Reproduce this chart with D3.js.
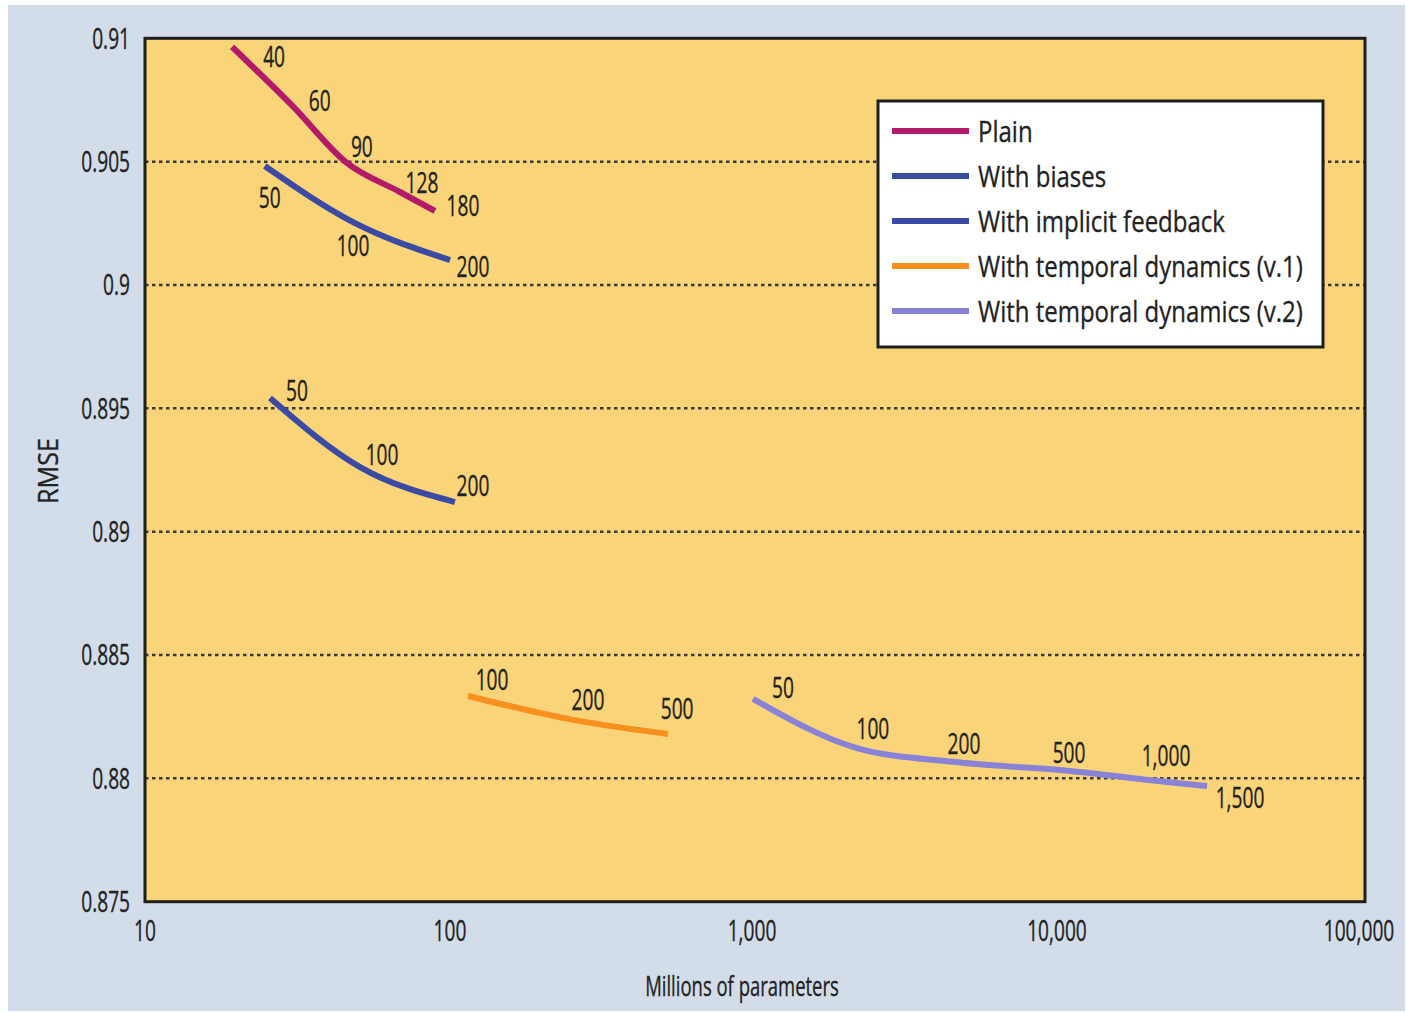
<!DOCTYPE html>
<html>
<head>
<meta charset="utf-8">
<script src="https://cdn.jsdelivr.net/npm/d3@7/dist/d3.min.js"></script>
<style>
  html, body { margin: 0; padding: 0; background: #ffffff; }
  svg { display: block; }
  text { font-family: "Open Sans", "Noto Sans", sans-serif; fill: #222222; stroke: #222222; stroke-width: 0.35px; }
</style>
</head>
<body>
<svg id="chart" width="1406" height="1013"></svg>
<script>
// ---------------- data ----------------
const seriesNames = ["Plain", "With biases", "With implicit feedback", "With temporal dynamics (v.1)", "With temporal dynamics (v.2)"];
const seriesColors = ["#b31a6a", "#3b4aa3", "#3b4aa3", "#f7901e", "#8883d6"];

// x: millions of parameters, y: RMSE, labels: number of factors
const plainParams = [19.3, 30.5, 45.9, 68, 89.3];
const plainRMSE   = [0.90965, 0.90725, 0.90495, 0.90379, 0.90300];
const plainLabels = ["40", "60", "90", "128", "180"];

const biasesParams = [24.7, 48.1, 100];
const biasesRMSE   = [0.90482, 0.90255, 0.90101];
const biasesLabels = ["50", "100", "200"];

const implicitParams = [25.7, 50.7, 103.8];
const implicitRMSE   = [0.89542, 0.89262, 0.89120];
const implicitLabels = ["50", "100", "200"];

const temporal1Params = [114.6, 253, 519];
const temporal1RMSE   = [0.88334, 0.88237, 0.88180];
const temporal1Labels = ["100", "200", "500"];

const temporal2Params = [985, 2158, 4457, 10790, 22430, 30340];
const temporal2RMSE   = [0.88322, 0.88123, 0.88067, 0.88030, 0.87985, 0.87969];
const temporal2Labels = ["50", "100", "200", "500", "1,000", "1,500"];

const yTicks = [0.875, 0.88, 0.885, 0.89, 0.895, 0.9, 0.905, 0.91];
const yTickLabels = ["0.875", "0.88", "0.885", "0.89", "0.895", "0.9", "0.905", "0.91"];
const xTicks = [10, 100, 1000, 10000, 100000];
const xTickLabels = ["10", "100", "1,000", "10,000", "100,000"];
const xTitle = "Millions of parameters";
const yTitle = "RMSE";

// label offsets (layout only, in pixels relative to point)
const labelOffsets = [
  [[42, 10], [27, -6], [15, -16], [23, -9], [28, -5]],
  [[5, 31], [0, 23], [23, 6]],
  [[27, -7], [22, -12], [18, -17]],
  [[24, -16], [15, -20], [9, -25]],
  [[30, -11], [16, -19], [11, -18], [-1, -18], [-1, -27], [33, 12]]
];

const series = [
  {params: plainParams, rmse: plainRMSE, labels: plainLabels},
  {params: biasesParams, rmse: biasesRMSE, labels: biasesLabels},
  {params: implicitParams, rmse: implicitRMSE, labels: implicitLabels},
  {params: temporal1Params, rmse: temporal1RMSE, labels: temporal1Labels},
  {params: temporal2Params, rmse: temporal2RMSE, labels: temporal2Labels}
];

// ---------------- layout ----------------
const svg = d3.select("#chart");
const plot = {left: 145, right: 1365, top: 38.3, bottom: 901.7};

const x = d3.scaleLog().domain([10, 100000]).range([plot.left, plot.right]);
const y = d3.scaleLinear().domain([0.875, 0.91]).range([plot.bottom, plot.top]);

// background panel
svg.append("rect").attr("x", 8).attr("y", 5).attr("width", 1397).attr("height", 1006).attr("fill", "#d3dde9");

// plot area
svg.append("rect")
  .attr("x", plot.left).attr("y", plot.top)
  .attr("width", plot.right - plot.left).attr("height", plot.bottom - plot.top)
  .attr("fill", "#fad479");

// gridlines
svg.append("g").selectAll("line")
  .data(yTicks.filter(t => t > 0.875 && t < 0.91))
  .join("line")
  .attr("x1", plot.left).attr("x2", plot.right)
  .attr("y1", d => y(d)).attr("y2", d => y(d))
  .attr("stroke", "#3a3a3a").attr("stroke-width", 2.5)
  .attr("stroke-dasharray", "3.5,3.5");

// plot border
svg.append("rect")
  .attr("x", plot.left).attr("y", plot.top)
  .attr("width", plot.right - plot.left).attr("height", plot.bottom - plot.top)
  .attr("fill", "none").attr("stroke", "#1e1e1e").attr("stroke-width", 3);

function condensedText(parent, tx, ty, str, size, sx, anchor) {
  return parent.append("text")
    .attr("transform", `translate(${tx},${ty}) scale(${sx},1)`)
    .attr("text-anchor", anchor || "middle")
    .attr("dy", "0.36em")
    .style("font-size", size + "px")
    .text(str);
}

// y axis tick labels
const yAxisG = svg.append("g");
yTicks.forEach((t, i) => condensedText(yAxisG, 130, y(t), yTickLabels[i], 29, 0.66, "end"));

// x axis tick labels
const xAxisG = svg.append("g");
xTicks.forEach((t, i) => condensedText(xAxisG, x(t) - (i === 4 ? 6 : (i > 1 ? 3 : 0)), 931, xTickLabels[i], 29, 0.66, "middle"));

// axis titles
condensedText(svg, 742, 986, xTitle, 28, 0.66, "middle");
svg.append("text")
  .attr("transform", `translate(48,471) rotate(-90) scale(0.9,1)`)
  .attr("text-anchor", "middle").attr("dy", "0.36em")
  .style("font-size", "28px")
  .text(yTitle);

// lines
const line = d3.line()
  .x(d => x(d[0])).y(d => y(d[1]))
  .curve(d3.curveMonotoneX);

const linesG = svg.append("g");
series.forEach((s, si) => {
  const pts = s.params.map((p, i) => [p, s.rmse[i]]);
  linesG.append("path")
    .attr("d", line(pts))
    .attr("fill", "none")
    .attr("stroke", seriesColors[si])
    .attr("stroke-width", 6)
    .attr("stroke-linecap", "butt")
    .attr("stroke-linejoin", "round");
});

// point labels
const labelsG = svg.append("g");
series.forEach((s, si) => {
  s.params.forEach((p, i) => {
    const off = labelOffsets[si][i];
    condensedText(labelsG, x(p) + off[0], y(s.rmse[i]) + off[1], s.labels[i], 29, 0.66, "middle");
  });
});

// legend
const legend = svg.append("g");
legend.append("rect")
  .attr("x", 878).attr("y", 101).attr("width", 445).attr("height", 246)
  .attr("fill", "#ffffff").attr("stroke", "#1e1e1e").attr("stroke-width", 3);
seriesNames.forEach((name, i) => {
  const ly = 131 + i * 45;
  legend.append("line")
    .attr("x1", 892).attr("x2", 969).attr("y1", ly).attr("y2", ly)
    .attr("stroke", seriesColors[i]).attr("stroke-width", 6);
  condensedText(legend, 978, ly, name, 30, 0.8, "start");
});
</script>
</body>
</html>
